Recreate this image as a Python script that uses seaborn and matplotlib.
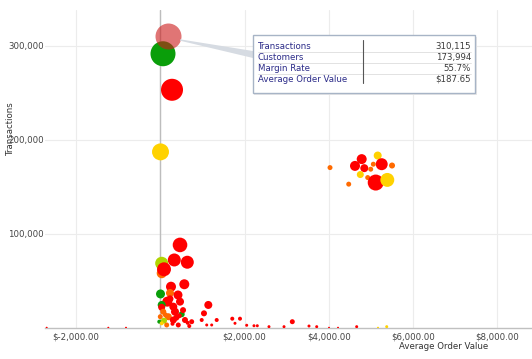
import pandas as pd
import matplotlib.pyplot as plt
import seaborn as sns
from matplotlib.patches import Polygon, Rectangle
from matplotlib.lines import Line2D

# Data
aov = [64, 278, 5,
       4781, 4622, 4843, 5161, 5256, 5501, 5057, 4995, 4748, 4924, 5114, 5389, 4473, 4029,
       468, 332, 641, 33, 33, 88,
       254, 570, 5, 230, 420, 166, 468, 33, 309, 33, 71, 349, 1140, 1037, 508,
       190, 0, 309, 88, 586, 745, -24, 33, 152, 427, 983, 1339, 1102, 1220, 688,
       1709, 1892, 1773, 2051, 2224, 2303, 2580, 2937, 3134, 3530, 3713, 4005, 4219,
       4662, 5168, 5375, -2697, -1234, -814,
       230, 380, 540, 120, 290, 650, 450]
transactions = [291500, 253200, 187200,
                179500, 172300, 169900, 183300, 174100, 172700, 174100, 168800, 163100, 159900,
                154600, 157400, 152900, 170500,
                88300, 72300, 69900, 68800, 58200, 62400,
                43900, 46500, 36200, 37200, 35100, 28000, 28000, 24500, 22700, 22000, 17300,
                17300, 24500, 15600, 14600,
                12000, 12000, 8500, 7800, 8500, 6700, 6700, 5000, 3200, 3200, 8500, 8500,
                3200, 3200, 2100,
                9900, 9900, 5000, 2900, 2400, 2400, 1400, 1400, 6700, 2100, 1400, 300, 300,
                1400, 300, 1400, 300, 300, 300,
                31000, 11000, 19000, 14000, 4500, 5500, 13000]
customers = [161000, 125000, 74000,
             25700, 25700, 16500, 16500, 37000, 9300, 6400, 6400, 12600, 6400, 66000, 50000,
             6400, 6400,
             55000, 43500, 43500, 43500, 25700, 50000,
             25700, 25700, 20800, 16500, 20800, 25700, 16500, 16500, 16500, 12600, 9300,
             16500, 16500, 9300, 9300,
             12600, 6400, 12600, 9300, 9300, 6400, 4100, 4100, 6400, 6400, 4100, 4100,
             2300, 2300, 4100,
             4100, 4100, 2300, 2300, 2300, 2300, 2300, 2300, 6400, 2300, 2300, 1000, 1000,
             2300, 1000, 2300, 1000, 1000, 1000,
             12600, 9300, 9300, 6400, 4100, 4100, 6400]
band = ['green', 'red', 'yellow',
        'red', 'red', 'red', 'yellow', 'red', 'orange', 'orange', 'orange', 'yellow', 'orange',
        'red', 'yellow', 'orange', 'orange',
        'red', 'red', 'red', 'lime', 'orange', 'red',
        'red', 'red', 'green', 'orange', 'red', 'red', 'red', 'green', 'red', 'red', 'orange',
        'red', 'red', 'red', 'green',
        'orange', 'orange', 'red', 'lime', 'red', 'red', 'green', 'yellow', 'orange', 'red',
        'red', 'red', 'red', 'red', 'red',
        'red', 'red', 'red', 'red', 'red', 'red', 'red', 'red', 'red', 'red', 'red', 'red', 'red',
        'red', 'yellow', 'yellow', 'red', 'red', 'red',
        'red', 'red', 'red', 'orange', 'red', 'red', 'red']

# highlighted point (tooltip)
hover_aov = 187.65
hover_transactions = 310115
hover_customers = 173994
tooltip_labels = ['Transactions', 'Customers', 'Margin Rate', 'Average Order Value']
tooltip_values = ['310,115', '173,994', '55.7%', '$187.65']

x_ticks = [-2000, 0, 2000, 4000, 6000, 8000]
x_ticklabels = ['$-2,000.00', '', '$2,000.00', '$4,000.00', '$6,000.00', '$8,000.00']
y_ticks = [100000, 200000, 300000]
y_ticklabels = ['100,000', '200,000', '300,000']

palette = {'red': '#ff0000', 'orange': '#ff6a00', 'yellow': '#ffd200',
           'lime': '#b0d400', 'green': '#0a9e0a'}

df = pd.DataFrame({'aov': aov, 'transactions': transactions,
                   'customers': customers, 'band': band})

sns.set_style('white')
plt.rcParams['font.family'] = ['DejaVu Sans']

W, H = 532, 359
fig = plt.figure(figsize=(W / 100, H / 100), dpi=100)
ax = fig.add_axes([45 / W, 1 - 328 / H, 487 / W, 318 / H])

S_MAX = 350
C_MAX = 174000

ax.axvline(0, color='#bdbdbd', lw=1, zorder=1)
sns.scatterplot(data=df, x='aov', y='transactions', hue='band', palette=palette,
                size='customers', sizes=(0, S_MAX), size_norm=(0, C_MAX),
                linewidth=0, alpha=1, legend=False, ax=ax, zorder=3)
ax.scatter([hover_aov], [hover_transactions], s=S_MAX * hover_customers / C_MAX,
           color=(0.8, 0.1, 0.1), alpha=0.6, linewidth=0, zorder=4)

ax.set_xlim(-2737, 8824)
ax.set_ylim(0, 338000)
ax.set_xticks(x_ticks)
ax.set_xticklabels(x_ticklabels)
ax.set_yticks(y_ticks)
ax.set_yticklabels(y_ticklabels)
ax.tick_params(axis='both', length=0, labelsize=6.2, labelcolor='#444444')
ax.tick_params(axis='x', pad=3)
ax.tick_params(axis='y', pad=1)
ax.grid(True, color='#ececec', lw=0.8)
ax.set_axisbelow(True)
for s in ['top', 'right', 'left']:
    ax.spines[s].set_visible(False)
ax.spines['bottom'].set_color('#c0c0c0')
ax.spines['bottom'].set_linewidth(1)
ax.set_xlabel('')
ax.set_ylabel('')

fig.text(10 / W, 1 - 128 / H, 'Transactions', rotation=90, ha='center', va='center',
         fontsize=6.2, color='#333333')
fig.text(444 / W, 1 - 346.7 / H, 'Average Order Value', ha='center', va='center',
         fontsize=6.2, color='#333333')

# tooltip connector + box (figure pixel coordinates)
def fp(x, y):
    return (x / W, 1 - y / H)

wedge = Polygon([fp(180, 39.3), fp(180, 40.7), fp(253, 58), fp(253, 51)],
                closed=True, transform=fig.transFigure, facecolor='#d6dbe2',
                edgecolor='none', zorder=5)
fig.patches.append(wedge)
shadow = Rectangle(fp(254, 95), 223 / W, 58 / H, transform=fig.transFigure,
                   facecolor='#e8e8e8', edgecolor='none', zorder=5)
fig.patches.append(shadow)
box = Rectangle(fp(252.7, 93), 222.3 / W, 58 / H, transform=fig.transFigure,
                facecolor='white', edgecolor='#a7b4c6', lw=1, zorder=6)
fig.patches.append(box)

row_y = [46.7, 57.7, 68.3, 79.3]
for i, (lab, val) in enumerate(zip(tooltip_labels, tooltip_values)):
    fig.text(*fp(258, row_y[i]), lab, ha='left', va='center', fontsize=6.2,
             color='#2b2b88', zorder=7)
    fig.text(*fp(471, row_y[i]), val, ha='right', va='center', fontsize=6.2,
             color='#3a3a3a', zorder=7)
    if i < 3:
        yy = (row_y[i] + row_y[i + 1]) / 2
        fig.lines.append(Line2D([258 / W, 471 / W], [1 - yy / H, 1 - yy / H],
                                transform=fig.transFigure, color='#dddddd', lw=0.6,
                                zorder=7))
fig.lines.append(Line2D([362.7 / W, 362.7 / W], [1 - 40 / H, 1 - 82.7 / H],
                        transform=fig.transFigure, color='#555555', lw=0.8, zorder=7))

fig.savefig('out.png', dpi=100)
